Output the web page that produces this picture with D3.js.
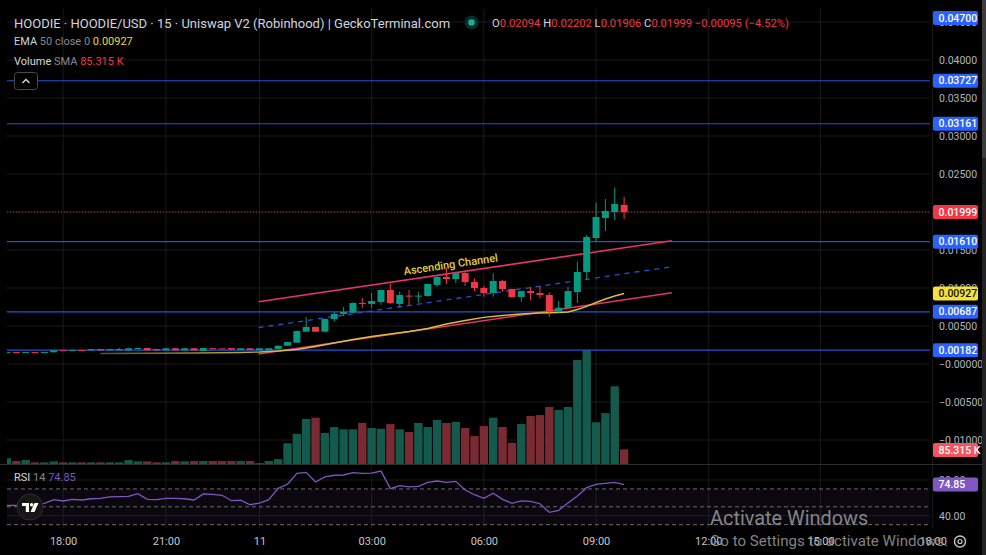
<!DOCTYPE html>
<html>
<head>
<meta charset="utf-8">
<script src="https://cdn.jsdelivr.net/npm/d3@7"></script>
<style>
  body { margin: 0; background: #000; overflow: hidden; }
  text { font-family: Roboto, "Noto Sans", sans-serif; }
</style>
</head>
<body>
<script>
// ---- data (15m bars, index 0 = first visible bar) ----
const opens  = [.00155,.00157,.00155,.00157,.00155,.00154,.00181,.00179,.00183,.00180,
                .00197,.00180,.00180,.00180,.00197,.00210,.00197,.00180,.00207,.00180,
                .00207,.00171,.00207,.00205,.00210,.00185,.00207,.00180,.00180,.00197,
                .00241,.00280,.00425,.00487,.00425,.00592,.00658,.00675,.00803,.00790,
                .00816,.00974,.00790,.00900,.00890,.00895,.01040,.01145,.01118,.01197,
                .01079,.01000,.00934,.01092,.00987,.00882,.00960,.00934,.00908,.00688,
                .00737,.00947,.01211,.01658,.01921,.02000,.02094];
const highs  = [.00158,.00158,.00158,.00158,.00158,.00182,.00183,.00185,.00184,.00199,
                .00198,.00199,.00210,.00209,.00212,.00211,.00198,.00208,.00208,.00208,
                .00208,.00211,.00208,.00206,.00211,.00208,.00210,.00208,.00208,.00245,
                .00292,.00438,.00618,.00490,.00600,.00688,.00750,.00810,.00868,.00934,
                .00980,.01053,.00951,.00974,.00951,.01060,.01171,.01263,.01214,.01214,
                .01128,.01026,.01193,.01105,.00990,.00962,.01017,.01026,.00943,.00829,
                .01017,.01346,.01697,.02122,.02171,.02320,.02202];
const lows   = [.00153,.00153,.00153,.00153,.00153,.00152,.00178,.00178,.00179,.00179,
                .00179,.00179,.00179,.00179,.00196,.00179,.00179,.00179,.00179,.00179,
                .00179,.00170,.00196,.00202,.00189,.00184,.00184,.00179,.00179,.00193,
                .00238,.00278,.00420,.00420,.00420,.00556,.00632,.00670,.00737,.00737,
                .00780,.00790,.00754,.00776,.00806,.00890,.01017,.01053,.01062,.01026,
                .00960,.00886,.00886,.00951,.00870,.00820,.00842,.00864,.00622,.00675,
                .00737,.00803,.01115,.01618,.01750,.01895,.01906];
const closes = [.00157,.00155,.00157,.00155,.00157,.00180,.00179,.00183,.00180,.00197,
                .00180,.00197,.00197,.00207,.00210,.00180,.00180,.00207,.00180,.00207,
                .00180,.00210,.00197,.00203,.00190,.00207,.00185,.00207,.00207,.00241,
                .00289,.00434,.00487,.00425,.00592,.00658,.00684,.00803,.00795,.00829,
                .00974,.00803,.00908,.00890,.00900,.01053,.01145,.01118,.01197,.01079,
                .01000,.00934,.01092,.00987,.00882,.00960,.00934,.00908,.00688,.00741,
                .00960,.01211,.01671,.01934,.02013,.02105,.01999];
// volume in thousands
const volumes = [35,18,24,10,10,16,10,10,10,10,
                 10,10,10,24,16,16,10,10,18,16,
                 18,18,18,18,18,18,18,6,18,30,
                 126,184,274,282,189,225,211,211,250,219,
                 215,243,211,195,250,225,268,250,256,219,
                 170,231,282,225,128,243,292,298,347,329,
                 347,633,691,254,310,473,89];
const rsiValues = [51.6,51.6,52,53,53.9,58,56.5,58.3,57.6,59,
                   59.5,61,61.3,61.7,64.7,58.3,58,59.5,59.3,59,
                   57.6,64.3,64,62.9,56.8,57.3,52.3,54.2,58,70.7,
                   75.2,87.5,88.6,77.8,83.4,85.3,85.6,88.2,87.5,87.8,
                   90,70.3,73.6,72.2,72.9,77.4,78.9,77.4,78.5,68.8,
                   63.5,59.5,65.1,58.3,53.9,56.5,56.1,53.4,43.8,46,
                   54.2,62.1,71.4,75.2,76.3,77.4,74.85];
const emaIdx  = [10,15,20,25,27,29,31,33,35,37,39,41,43,45,47,49,51,53,55,57,59,60,61,62,63,64,65,66];
const emaVals = [.00138,.00141,.00145,.00151,.00158,.00171,.00191,.00230,.00276,.00322,.00362,.00395,.00428,.00467,
                 .00526,.00572,.00614,.00638,.00658,.00671,.00678,.00684,.00717,.00757,.00809,.00855,.00895,.00927];

// drawn ascending channel (start / end bar index and price)
const channelIdx   = [26.9, 71.1];
const channelUpper = [0.00820, 0.01622];
const channelMid   = [0.00478, 0.01280];
const channelLower = [0.00132, 0.00938];

const levels    = [0.04700, 0.03727, 0.03161, 0.01610, 0.00687, 0.00182];
const lastClose = 0.01999;
const emaLast   = 0.00927;
const volSma    = 85.315;
const rsiLast   = 74.85;

const priceTicks = [-0.01,-0.005,0,0.005,0.01,0.015,0.02,0.025,0.03,0.035,0.04,0.045];
const priceTickLabels = ["\u22120.01000","\u22120.00500","\u22120.00000","0.00500","0.01000","0.01500",
                         "0.02000","0.02500","0.03000","0.03500","0.04000","0.04500"];
const timeTickIdx    = [6, 17, 27, 39, 51, 63, 75, 87, 99];
const timeTickLabels = ["18:00","21:00","11","03:00","06:00","09:00","12:00","15:00","18:00"];
const rsiTicks = [40, 80];
const rsiTickLabels = ["40.00", "80.00"];

// ---- layout ----
const W = 986, H = 555, plotR = 930, plotL = 7, mainTop = 9, mainBot = 464, rsiBot = 528;
const green = "#089981", red = "#f23645", blue = "#2962ff";

const x = d3.scaleLinear().domain([0, 99]).range([7, 7 + 99 * 9.35]);
const y = d3.scaleLinear().domain([0, 0.05]).range([364, -16]);
const yVol = d3.scaleLinear().domain([0, 700]).range([mainBot, 349]);
const yRsi = d3.scaleLinear().domain([40, 80]).range([515.7, 480]);

const bars = opens.map((o, i) => ({ i: i, o: o, h: highs[i], l: lows[i], c: closes[i], v: volumes[i], up: closes[i] >= o }));

const svg = d3.select("body").append("svg").attr("width", W).attr("height", H)
  .style("display", "block").style("background", "#000");

const defs = svg.append("defs");
defs.append("clipPath").attr("id", "mainClip").append("rect")
  .attr("x", plotL).attr("y", mainTop).attr("width", plotR - plotL).attr("height", mainBot - mainTop);
defs.append("clipPath").attr("id", "rsiClip").append("rect")
  .attr("x", plotL).attr("y", mainBot + 1).attr("width", plotR - plotL).attr("height", rsiBot - mainBot - 1);
const grad = defs.append("linearGradient").attr("id", "emaGrad")
  .attr("gradientUnits", "userSpaceOnUse").attr("x1", x(10)).attr("x2", x(30)).attr("y1", 0).attr("y2", 0);
grad.append("stop").attr("offset", 0).attr("stop-color", "#5e541c");
grad.append("stop").attr("offset", 1).attr("stop-color", "#d9bf3a");

// grid
const grid = svg.append("g");
grid.selectAll(".hg").data(priceTicks).enter().append("line")
  .attr("x1", plotL).attr("x2", plotR).attr("y1", d => y(d)).attr("y2", d => y(d))
  .attr("stroke", "#1a1a1a");
grid.selectAll(".rg").data(rsiTicks).enter().append("line")
  .attr("x1", plotL).attr("x2", plotR).attr("y1", d => yRsi(d)).attr("y2", d => yRsi(d))
  .attr("stroke", "#1a1a1a");
grid.selectAll(".vg").data(timeTickIdx).enter().append("line")
  .attr("x1", d => x(d)).attr("x2", d => x(d)).attr("y1", mainTop).attr("y2", rsiBot)
  .attr("stroke", "#1a1a1a");

const main = svg.append("g").attr("clip-path", "url(#mainClip)");

// volume
main.selectAll(".vol").data(bars).enter().append("rect")
  .attr("x", d => x(d.i) - 4.2).attr("width", 8.4)
  .attr("y", d => yVol(d.v)).attr("height", d => mainBot - yVol(d.v))
  .attr("fill", d => d.up ? "#13594c" : "#7a2a32");

// horizontal levels
main.selectAll(".lvl").data(levels).enter().append("line")
  .attr("x1", plotL).attr("x2", plotR).attr("y1", d => y(d)).attr("y2", d => y(d))
  .attr("stroke", blue).attr("stroke-width", 1.2).attr("opacity", 0.85);
main.append("line").attr("x1", plotL).attr("x2", plotR).attr("y1", y(lastClose)).attr("y2", y(lastClose))
  .attr("stroke", red).attr("stroke-dasharray", "1,2").attr("opacity", 0.8);

// channel
const chan = (vals, col, dash, w) => main.append("line")
  .attr("x1", x(channelIdx[0])).attr("y1", y(vals[0]))
  .attr("x2", x(channelIdx[1])).attr("y2", y(vals[1]))
  .attr("stroke", col).attr("stroke-width", w).attr("stroke-dasharray", dash);
chan(channelUpper, "#e5336b", null, 1.6);
chan(channelLower, "#e5336b", null, 1.6);
chan(channelMid, "#2a4fd0", "5,5", 1.3);

// EMA
main.append("path").datum(emaIdx.map((d, k) => [d, emaVals[k]]))
  .attr("fill", "none").attr("stroke", "url(#emaGrad)").attr("stroke-width", 1.4)
  .attr("d", d3.line().x(d => x(d[0])).y(d => y(d[1])));

// candles
const cg = main.selectAll(".candle").data(bars).enter().append("g");
cg.append("line")
  .attr("x1", d => x(d.i)).attr("x2", d => x(d.i))
  .attr("y1", d => y(d.h)).attr("y2", d => y(d.l))
  .attr("stroke", d => d.up ? green : red);
cg.append("rect")
  .attr("x", d => x(d.i) - 3.5).attr("width", 7)
  .attr("y", d => Math.min(y(d.o), y(d.c)))
  .attr("height", d => Math.max(1, Math.abs(y(d.o) - y(d.c))))
  .attr("fill", d => d.up ? green : red);

// channel label
const ax1 = x(channelIdx[0]), ay1 = y(channelUpper[0]), ax2 = x(channelIdx[1]), ay2 = y(channelUpper[1]);
const ang = Math.atan2(ay2 - ay1, ax2 - ax1) * 180 / Math.PI;
const lt = 0.465, lx = ax1 + (ax2 - ax1) * lt, ly = ay1 + (ay2 - ay1) * lt - 9;
main.append("text").attr("transform", `translate(${lx},${ly}) rotate(${ang})`)
  .attr("text-anchor", "middle").attr("dy", "0.35em")
  .attr("font-size", 11).attr("font-weight", 500).attr("fill", "#e3cf3c")
  .text("Ascending Channel");

// ---- RSI pane ----
svg.append("line").attr("x1", 0).attr("x2", 982).attr("y1", mainBot + 0.5).attr("y2", mainBot + 0.5)
  .attr("stroke", "#2e2e2e");
const rsiG = svg.append("g").attr("clip-path", "url(#rsiClip)");
rsiG.append("rect").attr("x", plotL).attr("width", plotR - plotL)
  .attr("y", yRsi(70)).attr("height", yRsi(30) - yRsi(70)).attr("fill", "#7e57c2").attr("opacity", 0.08);
rsiG.selectAll(".rl").data([70, 50, 30]).enter().append("line")
  .attr("x1", plotL).attr("x2", plotR).attr("y1", d => yRsi(d)).attr("y2", d => yRsi(d))
  .attr("stroke", "#6b6b6b").attr("stroke-dasharray", "4,3");
rsiG.append("path").datum(rsiValues)
  .attr("fill", "none").attr("stroke", "#7e57c2").attr("stroke-width", 1.3)
  .attr("d", d3.line().x((d, i) => x(i)).y(d => yRsi(d)));

// ---- axes ----
const pAxis = svg.append("g").attr("transform", `translate(${plotR},0)`)
  .call(d3.axisRight(y).tickValues(priceTicks).tickFormat((d, i) => priceTickLabels[i]).tickSize(0).tickPadding(9));
pAxis.select(".domain").remove();
pAxis.selectAll("text").attr("fill", "#b2b5be").attr("font-size", 10.5).attr("font-family", "Roboto, sans-serif");

const rAxis = svg.append("g").attr("transform", `translate(${plotR},0)`)
  .call(d3.axisRight(yRsi).tickValues(rsiTicks).tickFormat((d, i) => rsiTickLabels[i]).tickSize(0).tickPadding(9));
rAxis.select(".domain").remove();
rAxis.selectAll("text").attr("fill", "#b2b5be").attr("font-size", 10.5).attr("font-family", "Roboto, sans-serif");

const tAxis = svg.append("g").attr("transform", "translate(0,541)")
  .call(d3.axisBottom(x).tickValues(timeTickIdx).tickFormat((d, i) => timeTickLabels[i]).tickSize(0));
tAxis.select(".domain").remove();
tAxis.selectAll("text").attr("y", 0).attr("dy", "0.35em")
  .attr("fill", "#c4c6cc").attr("font-size", 11).attr("font-family", "Roboto, sans-serif");

// price labels on the axis
function axisLabel(yy, txt, bg, fg) {
  const g = svg.append("g").attr("transform", `translate(933,${yy})`);
  g.append("rect").attr("x", 0).attr("y", -7).attr("width", 45).attr("height", 14).attr("rx", 2).attr("fill", bg);
  g.append("text").attr("x", 5.5).attr("dy", "0.35em").attr("font-size", 10.5).attr("font-weight", 500)
    .attr("fill", fg).text(txt);
}
levels.forEach(v => axisLabel(Math.max(y(v), 18), d3.format(".5f")(v), blue, "#fff"));
axisLabel(y(lastClose), d3.format(".5f")(lastClose), red, "#fff");
axisLabel(y(emaLast), d3.format(".5f")(emaLast), "#f5e13c", "#131313");
axisLabel(yVol(volSma), volSma + " K", "#f7525f", "#fff");
axisLabel(yRsi(rsiLast), rsiLast, "#7e57c2", "#fff");

// right scrollbar strip
svg.append("rect").attr("x", 982).attr("y", 0).attr("width", 4).attr("height", H).attr("fill", "#222");
svg.append("rect").attr("x", 982).attr("y", 0).attr("width", 4).attr("height", 158).attr("fill", "#3c3c3c");

// ---- legend ----
const leg = svg.append("g").attr("font-size", 13);
const t1 = leg.append("text").attr("x", 14).attr("y", 23).attr("dy", "0.35em").attr("fill", "#d1d4dc");
t1.text("HOODIE \u00b7 HOODIE/USD \u00b7 15 \u00b7 Uniswap V2 (Robinhood) | GeckoTerminal.com");
svg.append("circle").attr("cx", 471.5).attr("cy", 22.5).attr("r", 7).attr("fill", "#0b2c27");
svg.append("circle").attr("cx", 471.5).attr("cy", 22.5).attr("r", 3.3).attr("fill", "#22ab94");

const ohlc = svg.append("text").attr("x", 492).attr("y", 23).attr("dy", "0.35em").attr("font-size", 11.2);
[["O", "0.02094 "], ["H", "0.02202 "], ["L", "0.01906 "], ["C", "0.01999 "], ["", "\u22120.00095 (\u22124.52%)"]]
  .forEach(p => {
    ohlc.append("tspan").attr("fill", "#d1d4dc").text(p[0]);
    ohlc.append("tspan").attr("fill", red).text(p[1]);
  });

function legendRow(yy, parts) {
  const t = svg.append("text").attr("x", 14).attr("y", yy).attr("dy", "0.35em").attr("font-size", 11);
  parts.forEach(p => t.append("tspan").attr("fill", p[1]).text(p[0]));
}
legendRow(41.5, [["EMA ", "#d1d4dc"], ["50 close 0  ", "#868993"], ["0.00927", "#f2d33a"]]);
legendRow(61.5, [["Volume ", "#d1d4dc"], ["SMA  ", "#868993"], ["85.315 K", red]]);
legendRow(477.5, [["RSI ", "#d1d4dc"], ["14  ", "#868993"], ["74.85", "#7e57c2"]]);

// collapse button
svg.append("rect").attr("x", 14.5).attr("y", 72.5).attr("width", 23).attr("height", 17).attr("rx", 3)
  .attr("fill", "#000").attr("stroke", "#4a4a4a");
svg.append("polyline").attr("points", "22.5,83 26,79.5 29.5,83").attr("fill", "none")
  .attr("stroke", "#e0e0e0").attr("stroke-width", 1.3);

// TradingView logo badge
const logo = svg.append("g").attr("transform", "translate(30,507)");
logo.append("circle").attr("r", 13).attr("fill", "#161616").attr("stroke", "#2e2e2e");
logo.append("path").attr("d", "M-8,-4 h7 v9 h-3.2 v-6 h-3.8 z").attr("fill", "#fff");
logo.append("circle").attr("cx", 1.6).attr("cy", -2.3).attr("r", 1.7).attr("fill", "#fff");
logo.append("path").attr("d", "M4.5,-4 h4 l-4,9 h-4 z").attr("fill", "#fff");

// settings gear
svg.append("circle").attr("cx", 960).attr("cy", 541.5).attr("r", 5.5).attr("fill", "none").attr("stroke", "#c8c8c8").attr("stroke-width", 1.4);
svg.append("circle").attr("cx", 960).attr("cy", 541.5).attr("r", 2).attr("fill", "none").attr("stroke", "#c8c8c8").attr("stroke-width", 1.2);

// OS watermark
svg.append("text").attr("x", 710).attr("y", 518).attr("dy", "0.35em").attr("font-size", 19.9)
  .attr("font-family", "'Open Sans', sans-serif").attr("fill", "#9a9a9a").attr("opacity", 0.85).text("Activate Windows");
svg.append("text").attr("x", 710).attr("y", 541).attr("dy", "0.35em").attr("font-size", 15.1)
  .attr("font-family", "'Open Sans', sans-serif").attr("fill", "#9a9a9a").attr("opacity", 0.85).text("Go to Settings to activate Windows.");
</script>
</body>
</html>
